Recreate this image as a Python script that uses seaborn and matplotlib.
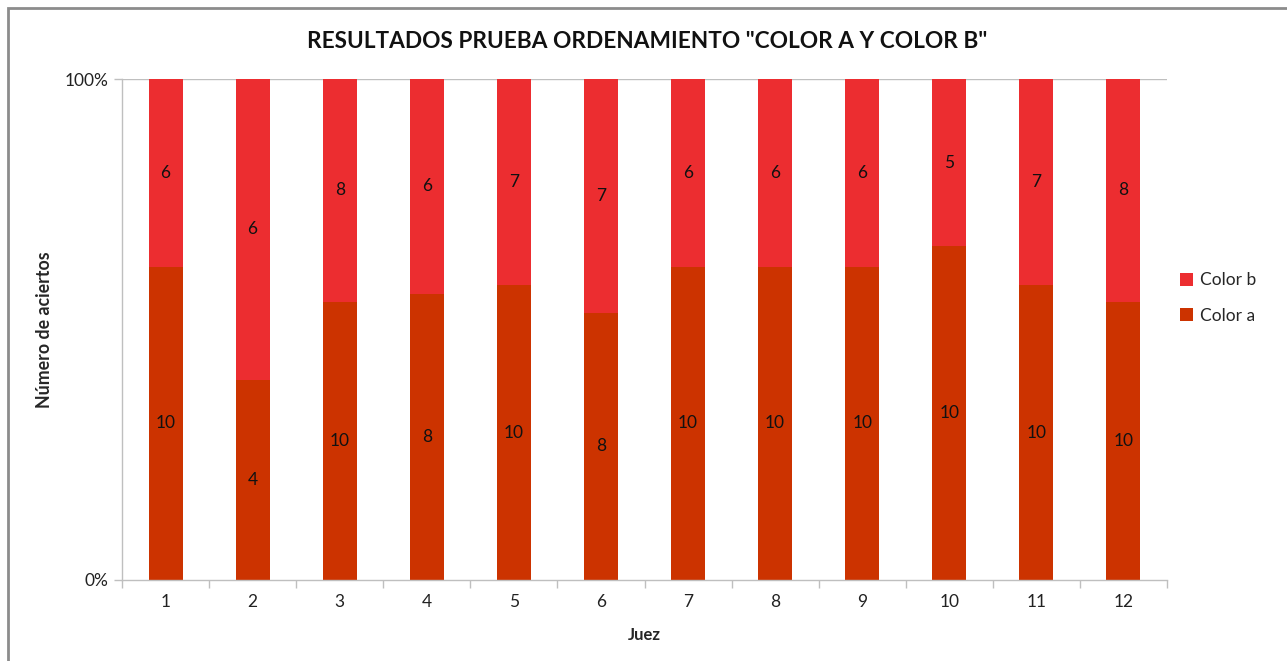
import numpy as np
import pandas as pd
import matplotlib
matplotlib.use("Agg")
import matplotlib.pyplot as plt
import seaborn as sns
from matplotlib.patches import Rectangle
from matplotlib.ticker import FixedLocator

jueces = ["1", "2", "3", "4", "5", "6", "7", "8", "9", "10", "11", "12"]
color_a = [10, 4, 10, 8, 10, 8, 10, 10, 10, 10, 10, 10]
color_b = [6, 6, 8, 6, 7, 7, 6, 6, 6, 5, 7, 8]

sns.set_theme(style="white")
plt.rcParams["font.family"] = ["Lato", "DejaVu Sans"]

df = pd.DataFrame({"Juez": jueces, "Color a": color_a, "Color b": color_b})
total = df["Color a"] + df["Color b"]
df["pa"] = df["Color a"] / total
df["pb"] = df["Color b"] / total

col_a = "#CC3300"
col_b = "#EC2D30"

fig = plt.figure(figsize=(12.87, 6.61), dpi=100)
ax = fig.add_axes([122 / 1287, 1 - 580 / 661, (1167 - 122) / 1287, (580 - 79) / 661])

sns.barplot(data=df, x="Juez", y="pa", color=col_a, width=0.39, ax=ax,
            saturation=1, label="Color a", order=jueces, linewidth=0)
sns.barplot(data=df, x="Juez", y="pb", bottom=df["pa"].values, color=col_b,
            width=0.39, ax=ax, saturation=1, label="Color b", order=jueces,
            linewidth=0)

handles, labels = ax.get_legend_handles_labels()
if ax.get_legend() is not None:
    ax.get_legend().remove()

# value labels centred in each segment
for i, row in df.iterrows():
    ax.text(i, row["pa"] / 2, str(row["Color a"]), ha="center", va="center",
            fontsize=12.5, color="#111111")
    ax.text(i, row["pa"] + row["pb"] / 2, str(row["Color b"]), ha="center",
            va="center", fontsize=12.5, color="#111111")

ax.set_xlim(-0.5, len(jueces) - 0.5)
ax.set_ylim(0, 1)
ax.set_yticks([0, 1])
ax.set_yticklabels(["0%", "100%"])
ax.axhline(1, color="#BFBFBF", lw=1, zorder=0)

for side in ["top", "right"]:
    ax.spines[side].set_visible(False)
for side in ["left", "bottom"]:
    ax.spines[side].set_color("#BFBFBF")
    ax.spines[side].set_linewidth(1)

ax.xaxis.set_minor_locator(FixedLocator(np.arange(-0.5, len(jueces), 1.0)))
ax.tick_params(axis="x", which="major", length=0, labelsize=12.5, pad=10,
               colors="#222222")
ax.tick_params(axis="x", which="minor", length=6, width=1, color="#BFBFBF",
               direction="out", bottom=True)
ax.tick_params(axis="y", length=6, width=1, color="#BFBFBF", direction="out",
               left=True, labelsize=12.5, labelcolor="#222222", pad=4)

ax.set_xlabel("Juez", fontsize=12, fontweight="bold", labelpad=12)
ax.set_ylabel("Número de aciertos", fontsize=12.8, fontweight="bold", labelpad=8)

fig.text((305 + 990) / 2 / 1287, 1 - 42 / 661,
         'RESULTADOS PRUEBA ORDENAMIENTO "COLOR A Y COLOR B"',
         ha="center", va="center", fontsize=16.3, fontweight="bold", color="#111111")

order = [labels.index("Color b"), labels.index("Color a")]
fig.legend([handles[k] for k in order], [labels[k] for k in order],
           loc="center left", bbox_to_anchor=(1164 / 1287, 1 - 298 / 661),
           frameon=False, fontsize=12.5, handlelength=0.75, handleheight=0.75,
           handletextpad=0.45, labelspacing=1.1)

# outer chart frame
fig.patches.append(Rectangle((8 / 1287, -0.1), 1.2, 1 - 8 / 661 + 0.1,
                             transform=fig.transFigure, fill=False,
                             edgecolor="#8C8C8C", lw=2, zorder=0))

fig.savefig("out.png", dpi=100, facecolor="white")
